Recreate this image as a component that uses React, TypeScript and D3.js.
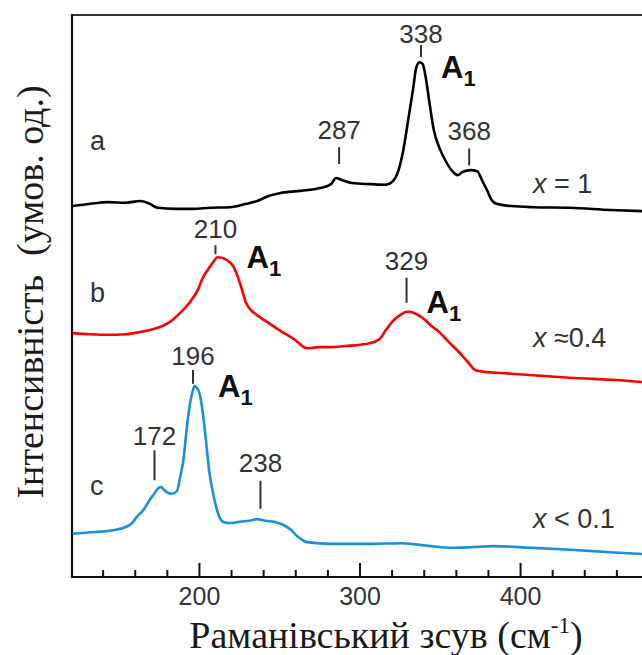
import React from 'react';
import * as d3 from 'd3';

// Raman shift (cm-1) and intensity (arb. units, already stacked) for each spectrum
const shiftA = [121, 132, 143, 154, 163, 169, 174, 185, 196, 207, 219, 229, 236, 243, 250, 263, 275, 282, 285, 289, 295, 307, 316, 320, 324, 327, 330, 333, 335, 337, 339, 341, 343, 346, 350, 353, 357, 361, 364, 369, 373, 376, 379, 382, 385, 394, 408, 431, 456, 476];
const intensityA = [6.6, 6.64, 6.67, 6.66, 6.69, 6.64, 6.57, 6.55, 6.55, 6.57, 6.58, 6.64, 6.69, 6.78, 6.83, 6.87, 6.92, 6.99, 7.1, 7.06, 7.01, 6.99, 6.98, 7.03, 7.24, 7.6, 8.13, 8.67, 9.06, 9.16, 9.13, 8.88, 8.49, 7.95, 7.6, 7.42, 7.24, 7.15, 7.21, 7.24, 7.22, 7.06, 6.89, 6.71, 6.64, 6.6, 6.58, 6.57, 6.53, 6.51];

const shiftB = [121, 132, 143, 154, 163, 171, 178, 183, 188, 194, 199, 202, 206, 209, 211, 214, 217, 221, 223, 226, 229, 232, 234, 242, 250, 259, 267, 274, 280, 291, 306, 312, 316, 321, 325, 329, 331, 335, 339, 344, 350, 356, 362, 367, 372, 378, 388, 408, 434, 456, 476];
const intensityB = [4.34, 4.32, 4.31, 4.32, 4.36, 4.41, 4.48, 4.57, 4.7, 4.89, 5.11, 5.32, 5.5, 5.62, 5.69, 5.68, 5.64, 5.53, 5.41, 5.16, 4.88, 4.75, 4.7, 4.54, 4.39, 4.23, 4.07, 4.09, 4.09, 4.11, 4.16, 4.23, 4.39, 4.57, 4.66, 4.72, 4.72, 4.68, 4.61, 4.48, 4.34, 4.16, 3.99, 3.83, 3.68, 3.65, 3.63, 3.59, 3.54, 3.51, 3.47];

const shiftC = [121, 135, 148, 154, 158, 161, 165, 169, 172, 174, 176, 178, 181, 183, 186, 188, 190, 192, 194, 196, 197, 198, 200, 202, 204, 206, 209, 212, 215, 219, 224, 231, 236, 241, 247, 252, 257, 260, 263, 267, 282, 293, 307, 326, 344, 357, 369, 383, 406, 434, 456, 476];
const intensityC = [0.77, 0.8, 0.84, 0.89, 0.96, 1.07, 1.19, 1.37, 1.49, 1.57, 1.6, 1.55, 1.49, 1.48, 1.53, 1.78, 2.08, 2.62, 3.06, 3.33, 3.4, 3.38, 3.27, 2.94, 2.44, 1.9, 1.42, 1.1, 0.98, 0.96, 0.98, 1.0, 1.03, 1.0, 0.98, 0.93, 0.84, 0.75, 0.68, 0.62, 0.59, 0.59, 0.59, 0.6, 0.55, 0.52, 0.53, 0.55, 0.52, 0.48, 0.44, 0.41];

const seriesNames = ['a', 'b', 'c'];
const compositions = ['= 1', '≈0.4', '< 0.1'];
const colors = ['#000000', '#ff0000', '#1b8fda'];

// marked peaks (cm-1) and which of them are A1 modes
const peaksA = [287, 338, 368];
const peaksB = [210, 329];
const peaksC = [172, 196, 238];
const a1Modes = [338, 210, 329, 196];

const xTicksMajor = [200, 300, 400];

// layout for the peak marks: [gap above curve, tick length, text gap]
const markLayout: Record<number, number[]> = {
  287: [15, 17, 8], 338: [6, 12, 2], 368: [5, 17, 8],
  210: [5, 9, 7], 329: [9, 25, 8],
  172: [13, 30, 5], 196: [6, 14, 5], 238: [11, 28, 9],
};
// A1 label offset from peak point
const a1Offset: Record<number, number[]> = {
  338: [20, 15], 210: [31, 9], 329: [20, 1], 196: [25, 7],
};
const nameY = [150, 302, 495];
const compY = [193, 347, 528];

const W = 642;
const H = 655;
const left = 72, top = 15, bottom = 577;

const sans = 'Liberation Sans, Arial, sans-serif';
const serif = 'Liberation Serif, Times New Roman, serif';

const App = () => {
  const x = d3.scaleLinear().domain([120, 480]).range([71, 649]);
  const y = d3.scaleLinear().domain([0, 10]).range([bottom, top]);

  const series = [
    { shift: shiftA, inten: intensityA, peaks: peaksA },
    { shift: shiftB, inten: intensityB, peaks: peaksB },
    { shift: shiftC, inten: intensityC, peaks: peaksC },
  ];

  const line = d3.line<[number, number]>()
    .x(d => x(d[0]))
    .y(d => y(d[1]))
    .curve(d3.curveMonotoneX);

  const minor = d3.range(140, 481, 20).filter(v => !xTicksMajor.includes(v));

  return (
    <svg width={W} height={H} style={{ position: 'absolute', left: 0, top: 0, background: '#fff' }}>
      <rect width={W} height={H} fill="#fff" />
      {/* spines */}
      <line x1={left} x2={W} y1={top} y2={top} stroke="#333" strokeWidth={2} />
      <line x1={left} x2={left} y1={top - 1} y2={bottom + 1} stroke="#111" strokeWidth={2.2} />
      <line x1={left - 1} x2={W} y1={bottom} y2={bottom} stroke="#111" strokeWidth={2.2} />
      {minor.map(v => (
        <line key={'m' + v} x1={x(v)} x2={x(v)} y1={bottom} y2={bottom - 7} stroke="#111" strokeWidth={2} />
      ))}
      {xTicksMajor.map(v => (
        <g key={'M' + v}>
          <line x1={x(v)} x2={x(v)} y1={bottom} y2={bottom - 14} stroke="#111" strokeWidth={2} />
          <text x={x(v)} y={605} textAnchor="middle" fontFamily={sans} fontSize={25} fill="#333">{v}</text>
        </g>
      ))}

      {series.map((s, i) => {
        const pts = s.shift.map((v, k) => [v, s.inten[k]] as [number, number]);
        const at = (v: number) => {
          const k = d3.bisector((d: number) => d).left(s.shift, v);
          const x0 = s.shift[k - 1], x1 = s.shift[k];
          const t = (v - x0) / (x1 - x0);
          return s.inten[k - 1] + t * (s.inten[k] - s.inten[k - 1]);
        };
        return (
          <g key={i}>
            <path d={line(pts) || ''} fill="none" stroke={colors[i]} strokeWidth={2.6} strokeLinejoin="round" />
            {s.peaks.map(p => {
              const [gap, len, tg] = markLayout[p];
              const py = y(at(p));
              const yb = py - gap;
              const yt = yb - len;
              return (
                <g key={p}>
                  <line x1={x(p)} x2={x(p)} y1={yb} y2={yt} stroke="#333" strokeWidth={2} />
                  <text x={x(p)} y={yt - tg} textAnchor="middle" fontFamily={sans} fontSize={26} fill="#333">{p}</text>
                  {a1Modes.includes(p) && (
                    <text x={x(p) + a1Offset[p][0]} y={py + a1Offset[p][1]} fontFamily={sans} fontWeight="bold" fontSize={31} fill="#111">
                      A<tspan fontSize={22} dy={8}>1</tspan>
                    </text>
                  )}
                </g>
              );
            })}
            <text x={90} y={nameY[i]} fontFamily={sans} fontSize={27} fill="#333">{seriesNames[i]}</text>
            <text x={533} y={compY[i]} fontFamily={sans} fontSize={27} fill="#333" style={{ whiteSpace: 'pre' }}>
              <tspan fontStyle="italic">x</tspan> {compositions[i]}
            </text>
          </g>
        );
      })}

      {/* axis titles */}
      <text x={386} y={648} textAnchor="middle" fontFamily={serif} fontSize={38} fill="#1a1a1a">
        Раманівський зсув (см<tspan fontSize={23} dy={-15}>-1</tspan><tspan dy={15}>)</tspan>
      </text>
      <text transform={`translate(43,292) rotate(-90)`} textAnchor="middle" fontFamily={serif} fontSize={38} fill="#1a1a1a" style={{ whiteSpace: 'pre' }}>
        Інтенсивність  (умов. од.)
      </text>
    </svg>
  );
};

export default App;
